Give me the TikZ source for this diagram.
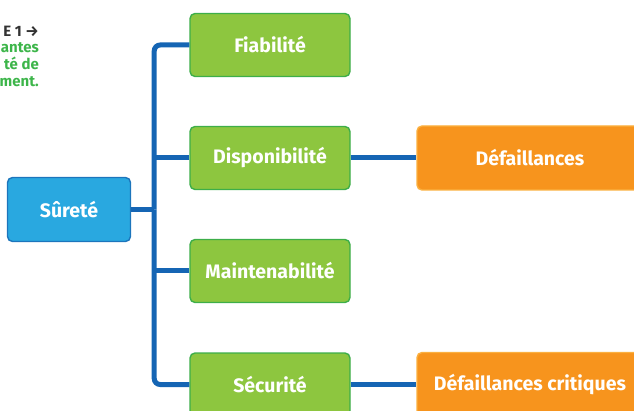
\documentclass[tikz,border=0pt]{standalone}
\usepackage{fontspec}
\setmainfont{Fira Sans}
\usetikzlibrary{positioning,calc}

\definecolor{bluefill}{HTML}{29A8E0}
\definecolor{blueline}{HTML}{1C75BC}
\definecolor{trunkcol}{HTML}{1565B4}
\definecolor{greenfill}{HTML}{8DC63F}
\definecolor{greenline}{HTML}{3DAE49}
\definecolor{orangefill}{HTML}{F7941D}
\definecolor{orangeline}{HTML}{FBB040}
\definecolor{notegreen}{HTML}{3DB54A}
\definecolor{notedark}{HTML}{333333}

\begin{document}
\begin{tikzpicture}[x=1pt,y=-1pt,font=\bfseries\fontsize{19.5}{22}\selectfont,
  top/.style={draw=blueline,fill=bluefill,line width=1.4pt,rounded corners=5pt,text=white,minimum width=123pt,minimum height=64pt},
  sub/.style={draw=greenline,fill=greenfill,line width=1.4pt,rounded corners=5pt,text=white,minimum width=160pt,minimum height=63pt},
  res/.style={draw=orangeline,fill=orangefill,line width=1.4pt,rounded corners=5pt,text=white,minimum width=226pt,minimum height=64pt},
  link/.style={draw=trunkcol,line width=5pt}]
\clip (0,0) rectangle (634,411);
% note in the corner
\node[anchor=north east,align=right,inner sep=0pt,font=\bfseries\fontsize{15}{16.8}\selectfont] (note) at (39,25.5)
  {\textcolor{notedark}{E 1 →}\\\textcolor{notegreen}{antes}\\\textcolor{notegreen}{té de}\\\textcolor{notegreen}{ment.}};
% boxes
\node[top](sur)   at(69,209.5){Sûreté};
\node[sub](fia)   at(270,45){Fiabilité};
\node[sub](dispo) at(270,158){Disponibilité};
\node[sub](maint) at(270,271){Maintenabilité};
\node[sub](secu)  at(270,384.5){Sécurité};
\node[res](def)   at(530,158){Défaillances};
\node[res](defc)  at(530,384.5){Défaillances critiques};
\coordinate (trunk) at ($(sur.east)+(23,0)$);
% tree lines
\draw[link,rounded corners=6pt](fia.west) -| (trunk);
\draw[link,rounded corners=6pt](secu.west) -| (trunk);
\draw[link](sur.east) -- (trunk);
\draw[link](dispo.west) -- (dispo.west -| trunk);
\draw[link](maint.west) -- (maint.west -| trunk);
\draw[link](dispo) -- (def);
\draw[link](secu) -- (defc);
\end{tikzpicture}
\end{document}
